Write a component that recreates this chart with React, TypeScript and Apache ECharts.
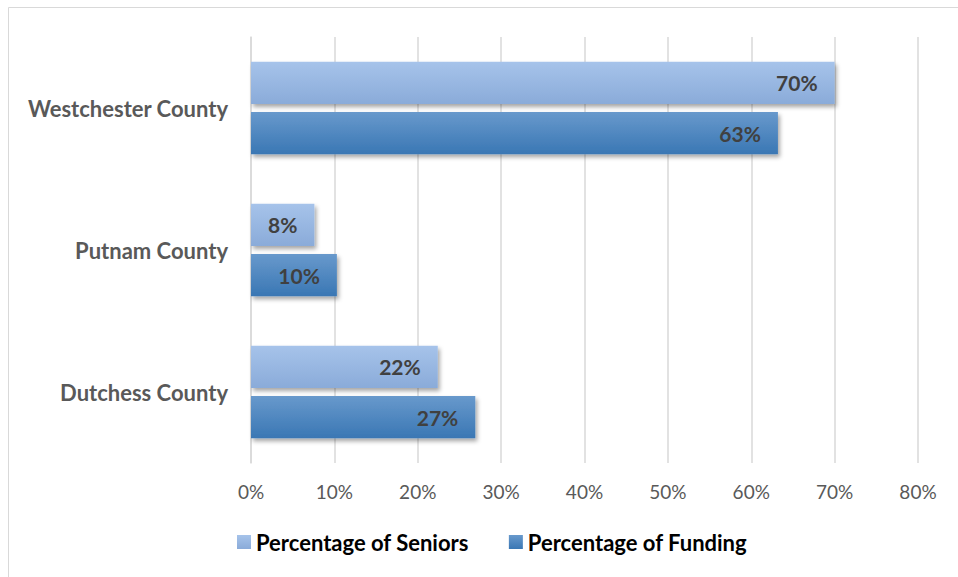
import React, { useEffect, useRef } from "react";
import * as echarts from "echarts";

const categories = ["Dutchess County", "Putnam County", "Westchester County"];
const seniors = [22.4, 7.6, 70];
const funding = [26.9, 10.3, 63.2];
const seriesNames = ["Percentage of Seniors", "Percentage of Funding"];

const FONT = "Lato, 'Open Sans', sans-serif";

export default function App() {
  const ref = useRef<HTMLDivElement>(null);
  useEffect(() => {
    if (!ref.current) return;
    const chart = echarts.init(ref.current, undefined, { renderer: "svg" });
    const grad = (a: string, b: string) =>
      new echarts.graphic.LinearGradient(0, 0, 0, 1, [
        { offset: 0, color: a },
        { offset: 1, color: b },
      ]);
    const shadow = {
      shadowBlur: 4,
      shadowOffsetX: 2,
      shadowOffsetY: 3,
      shadowColor: "rgba(0,0,0,0.35)",
    };
    const label = {
      show: true,
      position: "insideRight" as const,
      distance: 17,
      formatter: (p: any) => Math.round(p.value) + "%",
      color: "#404040",
      fontWeight: "bold" as const,
      fontSize: 21,
      fontFamily: FONT,
    };
    chart.setOption({
      animation: false,
      backgroundColor: "#ffffff",
      graphic: [
        {
          type: "rect",
          shape: { x: 8.5, y: 7.5, width: 980, height: 600 },
          style: { fill: "none", stroke: "#d9d9d9", lineWidth: 1 },
          silent: true,
        },
      ],
      grid: { left: 251, right: 40, top: 37, bottom: 114, containLabel: false },
      legend: {
        bottom: 19,
        left: 232,
        itemWidth: 14,
        itemHeight: 14,
        itemGap: 40,
        icon: "rect",
        textStyle: { color: "#000000", fontWeight: "bold", fontSize: 22, fontFamily: FONT },
        data: seriesNames,
      },
      xAxis: {
        type: "value",
        min: 0,
        max: 80,
        interval: 10,
        axisLine: { show: false },
        axisTick: { show: false },
        splitLine: { show: true, lineStyle: { color: "#d9d9d9", width: 1.5 } },
        axisLabel: {
          formatter: "{value}%",
          color: "#595959",
          fontSize: 19,
          fontFamily: FONT,
          margin: 19,
        },
      },
      yAxis: {
        type: "category",
        data: categories,
        axisLine: { show: true, lineStyle: { color: "#d9d9d9", width: 1.5 } },
        axisTick: { show: false },
        axisLabel: {
          color: "#595959",
          fontWeight: "bold",
          fontSize: 22,
          fontFamily: FONT,
          margin: 23,
        },
      },
      series: [
        {
          name: seriesNames[0],
          type: "bar",
          data: seniors,
          barCategoryGap: "35%",
          barGap: "19%",
          itemStyle: { color: grad("#a6c3ea", "#8aabd9"), ...shadow },
          label,
          z: 3,
        },
        {
          name: seriesNames[1],
          type: "bar",
          data: funding,
          itemStyle: { color: grad("#6899cc", "#3a77b4"), ...shadow },
          label,
          z: 2,
        },
      ],
    });
    return () => chart.dispose();
  }, []);
  return <div ref={ref} style={{ width: 958, height: 577, position: "absolute", left: 0, top: 0 }} />;
}
